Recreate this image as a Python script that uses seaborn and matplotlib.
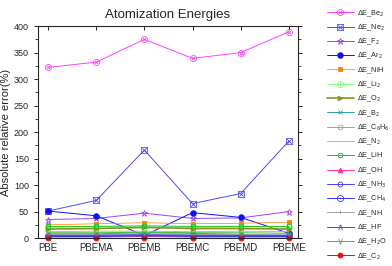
import numpy as np
import pandas as pd
import matplotlib
matplotlib.use("Agg")
import matplotlib.pyplot as plt
import seaborn as sns
from matplotlib.ticker import MultipleLocator

# functionals on the x axis
functionals = ["PBE", "PBEMA", "PBEMB", "PBEMC", "PBEMD", "PBEME"]

# absolute relative errors (%) per molecule
be2 = [322, 332, 375, 339, 350, 389]
ne2 = [51, 71, 166, 65, 84, 183]
f2 = [35, 37, 47, 37, 38, 50]
ar2 = [51, 42, 5, 48, 39, 9]
nih = [25, 27, 29, 27, 28, 30]
li2 = [20, 21, 21, 20, 21, 21]
o2 = [17, 18, 20, 18, 18, 17]
b2 = [8, 8, 10, 9, 7, 3]
c6h6 = [6, 6, 7, 6, 6, 5]
n2 = [12, 13, 13, 12, 13, 12]
lih = [22, 22, 23, 22, 22, 22]
oh = [2, 2, 3, 2, 2, 2]
nh3 = [3, 3, 4, 3, 3, 3]
ch4 = [4, 4, 5, 5, 4, 4]
nh = [7, 7, 8, 7, 7, 6]
hf = [5, 5, 6, 5, 5, 5]
h2o = [10, 10, 11, 10, 10, 9]
c2 = [1, 1, 1, 1, 1, 1]

# (label, values, colour, marker, filled, linewidth, markersize)
series = [
    (r"$\Delta$E_Be$_2$", be2, "#ff40ff", "$\\otimes$", True, 0.7, 5),
    (r"$\Delta$E_Ne$_2$", ne2, "#4a4aff", "$\\boxtimes$", True, 0.7, 5),
    (r"$\Delta$E_F$_2$", f2, "#a040ff", "*", False, 0.7, 4.5),
    (r"$\Delta$E_Ar$_2$", ar2, "#1010ff", "o", True, 0.7, 4),
    (r"$\Delta$E_NiH", nih, "#ff8000", "s", True, 0.5, 3.5),
    (r"$\Delta$E_Li$_2$", li2, "#80ff80", "$\\oplus$", True, 0.7, 5),
    (r"$\Delta$E_O$_2$", o2, "#909020", ">", True, 1.2, 3.5),
    (r"$\Delta$E_B$_2$", b2, "#30a0a0", "x", False, 0.7, 3.5),
    (r"$\Delta$E_C$_6$H$_6$", c6h6, "#a0a0a0", "o", False, 0.7, 3.5),
    (r"$\Delta$E_N$_2$", n2, "#c0c070", "$\\boxplus$", True, 0.7, 5),
    (r"$\Delta$E_LiH", lih, "#20c020", "s", False, 0.7, 3.5),
    (r"$\Delta$E_OH", oh, "#ff3399", "^", True, 0.7, 3.5),
    (r"$\Delta$E_NH$_3$", nh3, "#4040ff", "o", False, 0.7, 3.5),
    (r"$\Delta$E_CH$_4$", ch4, "#3030ff", "$\\odot$", True, 0.7, 5),
    (r"$\Delta$E_NH", nh, "#a0a0a0", "|", False, 0.7, 3.5),
    (r"$\Delta$E_HF", hf, "#4040ff", "$\\wedge$", True, 0.7, 4),
    (r"$\Delta$E_H$_2$O", h2o, "#40c040", "$\\vee$", True, 0.7, 4),
    (r"$\Delta$E_C$_2$", c2, "#ff0000", "o", True, 0.7, 3.5),
]

sns.set_style("ticks")
plt.rcParams["font.family"] = ["Liberation Sans", "DejaVu Sans"]
plt.rcParams["mathtext.fontset"] = "dejavusans"

fig = plt.figure(figsize=(3.92, 2.66), dpi=100)
ax = fig.add_axes([0.097, 0.105, 0.663, 0.797])

for label, vals, color, marker, filled, lw, ms in series:
    df = pd.DataFrame({"functional": functionals, "err": vals})
    is_glyph = marker.startswith("$")
    sns.lineplot(data=df, x="functional", y="err", ax=ax, color=color,
                 marker=marker, markersize=ms, linewidth=lw, label=label,
                 markerfacecolor=color if filled else "none",
                 markeredgecolor=color,
                 markeredgewidth=0 if is_glyph else 0.6,
                 clip_on=False, sort=False)

ax.set_xlim(-0.21, 5.19)
ax.set_ylim(0, 400)
ax.yaxis.set_major_locator(MultipleLocator(50))
ax.yaxis.set_minor_locator(MultipleLocator(25))
ax.tick_params(axis="y", which="major", labelsize=6.5, length=3, width=0.7,
               direction="out", right=True)
ax.tick_params(axis="y", which="minor", length=2, width=0.6, right=True)
ax.tick_params(axis="x", labelsize=7, length=3, width=0.7, top=True, direction="in")
for sp in ax.spines.values():
    sp.set_linewidth(0.8)

ax.set_xlabel("")
ax.set_ylabel("Absolute relative error(%)", fontsize=8, labelpad=2)
ax.set_title("Atomization Energies", fontsize=9.5, pad=6)

ax.legend(loc="upper left", bbox_to_anchor=(1.11, 1.085), frameon=False,
          fontsize=5.2, handlelength=3.8, handletextpad=0.45,
          labelspacing=0.53, borderaxespad=0, borderpad=0)

fig.savefig("out.png", dpi=100)
